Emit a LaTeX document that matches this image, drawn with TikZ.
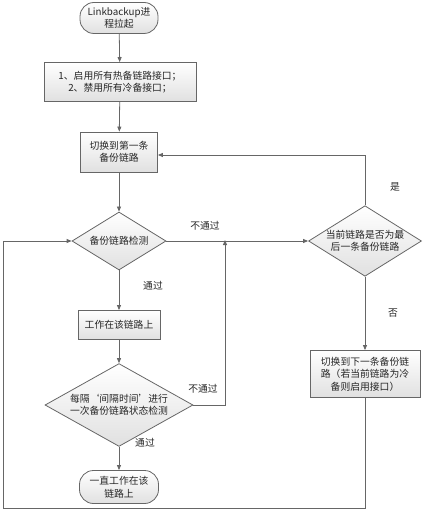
\documentclass[tikz,border=0pt]{standalone}
\usepackage{fontspec}
\newfontfamily\cjk{Noto Sans CJK SC}
\usetikzlibrary{shapes.geometric,arrows.meta}
\begin{document}
\begin{tikzpicture}[x=1pt,y=-1pt,
  every node/.style={font=\cjk\fontsize{9.8}{12.5}\selectfont, text=black!85, align=center, inner sep=0pt},
  base/.style={draw=black!60, line width=0.8pt, top color=white, bottom color=black!12},
  term/.style={base, rounded corners=14pt, minimum width=78pt, minimum height=31pt},
  proc/.style={base, minimum height=39pt},
  dec/.style={base, diamond, aspect=1.6, inner sep=0pt},
  conn/.style={draw=black!60, line width=0.8pt, -{Triangle[length=5pt,width=4pt]}},
  lbl/.style={font=\cjk\fontsize{9.8}{12.5}\selectfont}]
\useasboundingbox (0,0) rectangle (423,521);
\node[term] (start) at (119,18) {Linkbackup进\\程拉起};
\node[proc, minimum width=152pt] (init) at (120,82) {1、启用所有热备链路接口；\\2、禁用所有冷备接口；};
\node[proc, minimum width=77pt, minimum height=40pt] (first) at (119,152) {切换到第一条\\备份链路};
\node[dec, minimum width=94pt, minimum height=58pt] (chk) at (119,241) {备份链路检测};
\node[dec, minimum width=105pt, minimum height=65pt] (last) at (365,241) {当前链路是否为最\\后一条备份链路};
\node[proc, minimum width=110pt, minimum height=47pt] (next) at (365,374) {切换到下一条备份链\\路（若当前链路为冷\\备则启用接口）};
\node[proc, minimum width=82pt, minimum height=29pt] (work) at (119,325) {工作在该链路上};
\node[dec, minimum width=148pt, minimum height=56pt] (per) at (119,405) {每隔‘间隔时间’进行\\一次备份链路状态检测};
\node[term, minimum width=79pt, minimum height=33pt] (end) at (119,487) {一直工作在该\\链路上};

\coordinate (j) at (225,241);
\coordinate (b1) at (365,508);
\coordinate (b2) at (3,508);
\coordinate (b3) at (3,241);
\coordinate (t1) at (365,155);

\draw[conn] (start) -- (init);
\draw[conn] (init) -- (first);
\draw[conn] (first) -- (chk);
\draw[conn] (chk) -- (last);
\draw[conn] (last.north) -- (t1) -- (first.east |- t1);
\draw[conn] (last) -- (next);
\draw[conn] (next.south) -- (b1) -- (b2) -- (b3) -- (chk.west);
\draw[conn] (chk) -- (work);
\draw[conn] (work) -- (per);
\draw[conn] (per.east) -- (per.east -| j) -- ([yshift=1pt]j);
\draw[conn] (per) -- (end);

\node[lbl] (l1) at (205,226) {不通过};
\node[lbl] (l2) at (395,187) {是};
\node[lbl] (l3) at (393,313) {否};
\node[lbl] (l4) at (153,286) {通过};
\node[lbl] (l5) at (203,389) {不通过};
\node[lbl] (l6) at (145,443) {通过};
\end{tikzpicture}
\end{document}
